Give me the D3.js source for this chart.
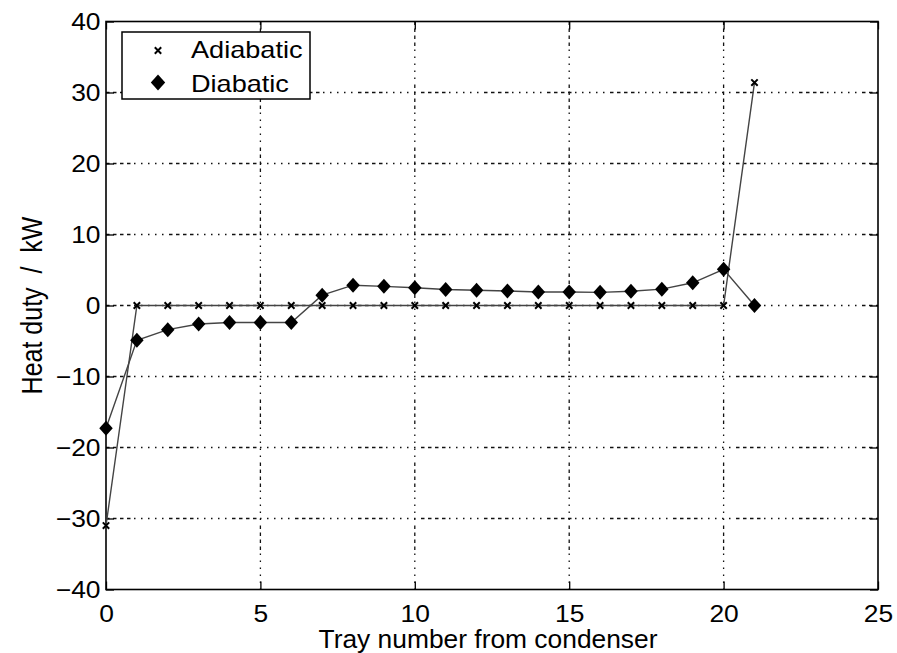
<!DOCTYPE html>
<html>
<head>
<meta charset="utf-8">
<title>Heat duty</title>
<script src="https://cdn.jsdelivr.net/npm/d3@7/dist/d3.min.js"></script>
<style>
    html, body { margin: 0; background: #fff; }
    svg { display: block; font-family: "Liberation Sans", Arial, sans-serif; }
    .grid line { stroke: #111; stroke-width: 1.3;
        stroke-dasharray: 3.5 3.5 3.5 3.5 3.5 3.5 3.5 3.5 1.5 5.5 1.5 5.5 1.5 5.5 1.5 5.5 1.5 5.5; }
    .tick text { font-size: 24px; fill: #000; font-family: "Liberation Sans", Arial, sans-serif; }
</style>
</head>
<body>
<script>
    var trays = d3.range(0, 22);
    var adiabatic = [-31, 0, 0, 0, 0, 0, 0, 0, 0, 0, 0, 0, 0, 0, 0, 0, 0, 0, 0, 0, 0, 31.4];
    var diabatic = [-17.3, -4.9, -3.4, -2.6, -2.4, -2.4, -2.4, 1.45, 2.86, 2.7, 2.5, 2.25, 2.15, 2.05, 1.9, 1.9, 1.85, 2.0, 2.3, 3.2, 5.1, 0];
    var xTicks = [0, 5, 10, 15, 20, 25];
    var yTicks = [-40, -30, -20, -10, 0, 10, 20, 30, 40];
    var seriesNames = ["Adiabatic", "Diabatic"];

    var W = 897, H = 653;
    var pL = 106, pR = 878, pT = 21.5, pB = 589.5;
    var sx = 1.1; // the reference text is a bit wider than plain Arial

    var svg = d3.select("body").append("svg").attr("width", W).attr("height", H);
    var x = d3.scaleLinear().domain([0, 25]).range([pL, pR]);
    var y = d3.scaleLinear().domain([-40, 40]).range([pB, pT]);

    // grid
    var g = svg.append("g").attr("class", "grid");
    g.selectAll(".gx").data(xTicks.slice(1, -1)).enter().append("line")
        .attr("x1", d => x(d)).attr("x2", d => x(d)).attr("y1", pT).attr("y2", pB);
    g.selectAll(".gy").data(yTicks.slice(1, -1)).enter().append("line")
        .attr("x1", pL).attr("x2", pR).attr("y1", d => y(d)).attr("y2", d => y(d));

    // axes, ticks inward
    var fmt = d => d < 0 ? "\u2212" + Math.abs(d) : d;
    svg.append("g").attr("transform", "translate(0," + pB + ")")
        .call(d3.axisBottom(x).tickValues(xTicks).tickSize(-8).tickPadding(15).tickFormat(fmt));
    svg.append("g").attr("transform", "translate(" + pL + ",0)")
        .call(d3.axisLeft(y).tickValues(yTicks).tickSize(-8).tickPadding(5).tickFormat(fmt));
    svg.append("g").attr("transform", "translate(0," + pT + ")")
        .call(d3.axisTop(x).tickValues(xTicks).tickSize(-8).tickFormat(""));
    svg.append("g").attr("transform", "translate(" + pR + ",0)")
        .call(d3.axisRight(y).tickValues(yTicks).tickSize(-8).tickFormat(""));
    svg.selectAll(".domain").remove();
    svg.selectAll(".tick line").attr("stroke", "#000").attr("stroke-width", 1.3);
    svg.selectAll(".tick text").attr("transform", "scale(" + sx + ",1)");
    svg.append("rect").attr("x", pL).attr("y", pT).attr("width", pR - pL).attr("height", pB - pT)
        .attr("fill", "none").attr("stroke", "#000").attr("stroke-width", 1.6);

    // lines
    var line = d3.line().x((d, i) => x(trays[i])).y(d => y(d));
    svg.append("path").datum(adiabatic).attr("d", line)
        .attr("fill", "none").attr("stroke", "#444").attr("stroke-width", 1.4);
    svg.append("path").datum(diabatic).attr("d", line)
        .attr("fill", "none").attr("stroke", "#444").attr("stroke-width", 1.4);

    function cross(sel, cx, cy, s) {
        sel.append("path").attr("d", "M" + (cx - s) + "," + (cy - s) + "L" + (cx + s) + "," + (cy + s) +
            "M" + (cx - s) + "," + (cy + s) + "L" + (cx + s) + "," + (cy - s))
            .attr("stroke", "#000").attr("stroke-width", 2);
    }
    function diamond(sel, cx, cy, s) {
        sel.append("path").attr("d", "M" + cx + "," + (cy - s) + "L" + (cx + s * 0.9) + "," + cy +
            "L" + cx + "," + (cy + s) + "L" + (cx - s * 0.9) + "," + cy + "Z").attr("fill", "#000");
    }
    var marks = svg.append("g");
    adiabatic.forEach((v, i) => cross(marks, x(trays[i]), y(v), 3.2));
    diabatic.forEach((v, i) => diamond(marks, x(trays[i]), y(v), 7.5));

    // axis labels
    svg.append("text").attr("transform", "translate(488,648) scale(1.055,1)")
        .attr("text-anchor", "middle").attr("font-size", 25).text("Tray number from condenser");
    svg.append("text").attr("transform", "translate(42," + ((pT + pB) / 2) + ") scale(1.16,1) rotate(-90)")
        .attr("text-anchor", "middle").attr("font-size", 25).attr("xml:space", "preserve").text("Heat duty  /  kW");

    // legend
    var lg = svg.append("g");
    lg.append("rect").attr("x", 122).attr("y", 32).attr("width", 188).attr("height", 67)
        .attr("fill", "#fff").attr("stroke", "#000").attr("stroke-width", 1.5);
    cross(lg, 158, 50.5, 3.2);
    diamond(lg, 158, 82.5, 8);
    lg.selectAll(".lt").data(seriesNames).enter().append("text")
        .attr("transform", (d, i) => "translate(191," + (58 + i * 34) + ") scale(1.13,1)")
        .attr("font-size", 24).text(d => d);
</script>
</body>
</html>
